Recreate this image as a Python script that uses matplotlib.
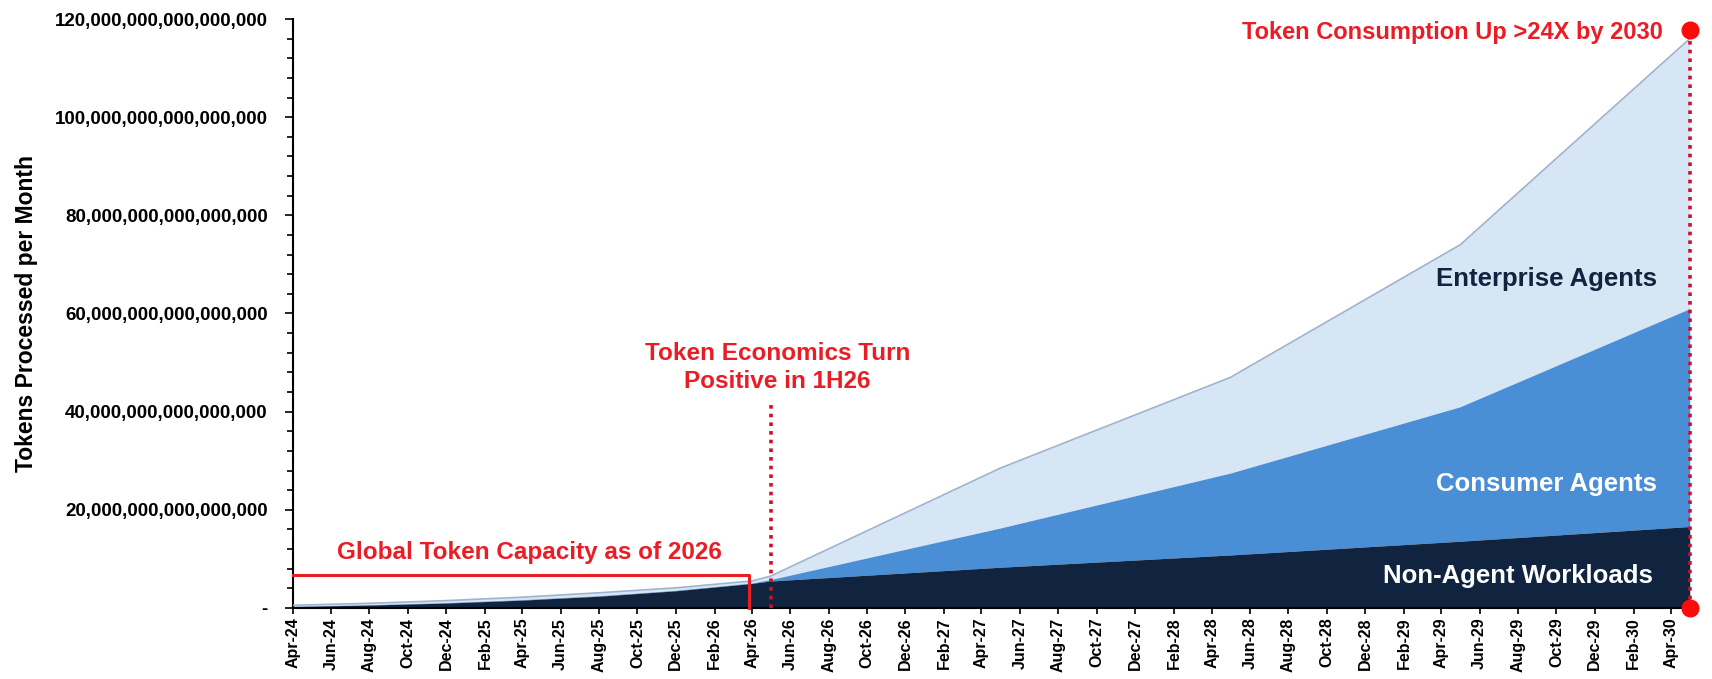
import matplotlib
matplotlib.use("Agg")
import matplotlib.pyplot as plt
import matplotlib.dates as mdates
from matplotlib.ticker import FuncFormatter, MultipleLocator
import pandas as pd

plt.rcParams['font.family'] = ['Liberation Sans', 'DejaVu Sans']

# key points (tokens per month, units of 1e15)
dates = ['2024-04', '2024-08', '2024-12', '2025-04', '2025-08', '2025-12',
         '2026-04', '2026-05', '2027-05', '2028-05', '2029-05', '2030-05']
non_agent = [0.3, 0.6, 1.0, 1.6, 2.4, 3.5, 5.0, 5.5, 8.3, 10.8, 13.6, 16.6]
consumer = [0.05, 0.05, 0.1, 0.1, 0.1, 0.1, 0.1, 0.3, 8.0, 16.7, 27.4, 44.4]
enterprise = [0.2, 0.3, 0.4, 0.5, 0.6, 0.5, 0.4, 0.7, 12.2, 19.5, 33.0, 55.0]

capacity_2026 = 6.7e15
econ_date = '2026-05'
capacity_end = '2026-03-28'
end_date = '2030-05'

x = pd.to_datetime(dates)
scale = 1e15
na = [v * scale for v in non_agent]
ca = [(a + b) * scale for a, b in zip(non_agent, consumer)]
tot = [(a + b + c) * scale for a, b, c in zip(non_agent, consumer, enterprise)]

fig = plt.figure(figsize=(17.12, 6.79), dpi=100)
ax = fig.add_axes([0.171, 0.1046, 0.816, 0.8674])

c_dark = '#10243f'
c_mid = '#4a8fd6'
c_light = '#d7e6f5'
red = '#ea1c24'

ax.fill_between(x, 0, na, color=c_dark, lw=0, zorder=3)
ax.fill_between(x, na, ca, color=c_mid, lw=0, zorder=2)
ax.fill_between(x, ca, tot, color=c_light, lw=0, zorder=1)
ax.plot(x, tot, color='#9fb3cc', lw=1.2, zorder=4)

ax.set_xlim(pd.Timestamp('2024-04-01'), pd.Timestamp(end_date))
ax.set_ylim(0, 120e15)

ax.xaxis.set_major_locator(mdates.MonthLocator(bymonth=[2, 4, 6, 8, 10, 12]))
ax.xaxis.set_major_formatter(mdates.DateFormatter('%b-%y'))
ax.yaxis.set_major_locator(MultipleLocator(20e15))
ax.yaxis.set_minor_locator(MultipleLocator(4e15))


def yfmt(v, pos):
    if abs(v) < 1:
        return '-'
    return f'{int(round(v)):,}'


ax.yaxis.set_major_formatter(FuncFormatter(yfmt))
for lab in ax.get_xticklabels():
    lab.set_rotation(90)
ax.tick_params(axis='x', labelsize=11.5, direction='out', length=4, width=1.2, pad=3)
ax.tick_params(axis='y', which='major', labelsize=13.5, direction='out', length=6, width=1.2, pad=12)
ax.tick_params(axis='y', which='minor', direction='out', length=4, width=1.2)
for lab in ax.get_xticklabels() + ax.get_yticklabels():
    lab.set_fontweight('bold')
ax.spines['top'].set_visible(False)
ax.spines['right'].set_visible(False)
ax.spines['left'].set_linewidth(1.5)
ax.spines['bottom'].set_linewidth(1.5)
ax.spines['bottom'].set_zorder(6)

ax.set_ylabel('Tokens Processed per Month', fontsize=16.5, fontweight='bold', labelpad=12)

# series labels
ax.text(pd.Timestamp('2029-09-15'), 67e15, 'Enterprise Agents', fontsize=18.5, fontweight='bold',
        color=c_dark, ha='center', va='center', zorder=7)
ax.text(pd.Timestamp('2029-09-15'), 25.3e15, 'Consumer Agents', fontsize=18.5, fontweight='bold',
        color='white', ha='center', va='center', zorder=7)
ax.text(pd.Timestamp('2029-08-01'), 6.5e15, 'Non-Agent Workloads', fontsize=18.5, fontweight='bold',
        color='white', ha='center', va='center', zorder=7)

# capacity line
ax.plot([pd.Timestamp('2024-04-01'), pd.Timestamp(capacity_end), pd.Timestamp(capacity_end)],
        [capacity_2026, capacity_2026, 0], color=red, lw=2.2, zorder=8, clip_on=False)
ax.text(pd.Timestamp('2024-06-10'), 11.3e15, 'Global Token Capacity as of 2026', fontsize=17.5,
        fontweight='bold', color=red, ha='left', va='center', zorder=8)

# token economics marker
ax.plot([pd.Timestamp(econ_date)] * 2, [0, 42e15], color='#d0102a', lw=2.6, ls=(0, (1, 1.4)),
        zorder=8, clip_on=False)
ax.text(pd.Timestamp('2026-05-12'), 49e15, 'Token Economics Turn\nPositive in 1H26', fontsize=17.5,
        fontweight='bold', color=red, ha='center', va='center', linespacing=1.3, zorder=8)

# 2030 marker
ax.plot([pd.Timestamp(end_date)] * 2, [0, 117.8e15], color='#d0102a', lw=2.6, ls=(0, (1, 1.4)),
        zorder=8, clip_on=False)
ax.plot([pd.Timestamp(end_date)] * 2, [0, 117.8e15], 'o', color='#ff0a0a', ms=12, zorder=9,
        clip_on=False)
ax.text(pd.Timestamp('2030-03-20'), 117.3e15, 'Token Consumption Up >24X by 2030', fontsize=17,
        fontweight='bold', color=red, ha='right', va='center', zorder=8)

fig.savefig('out.png', dpi=100)
